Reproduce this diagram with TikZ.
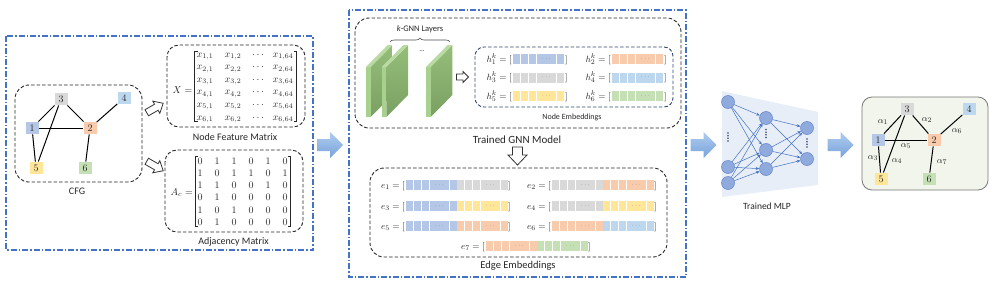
\documentclass[tikz,border=0pt]{standalone}
\usepackage{fontspec}
\newfontfamily\lblfont{Carlito}
\usetikzlibrary{decorations.pathreplacing,arrows.meta}
\definecolor{cblue}{RGB}{180,199,231}
\definecolor{corange}{RGB}{248,203,173}
\definecolor{cgray}{RGB}{217,217,217}
\definecolor{clblue}{RGB}{189,215,238}
\definecolor{cyellow}{RGB}{255,230,153}
\definecolor{cgreen}{RGB}{197,224,180}
\definecolor{boxblue}{RGB}{68,114,196}
\definecolor{navyd}{RGB}{50,70,110}
\definecolor{txt}{RGB}{38,38,38}
\definecolor{glight}{RGB}{169,209,142}
\definecolor{gdarkA}{RGB}{150,190,122}
\definecolor{gdarkB}{RGB}{122,160,98}
\definecolor{mlpbg}{RGB}{232,238,248}
\definecolor{mlpnode}{RGB}{143,170,220}
\definecolor{mlpline}{RGB}{110,140,205}
\newcommand{\embhalf}[4]{%
  \fill[#4] (#2,#3-5) rectangle (#2+51,#3+5);
  \foreach \o in {7.7,15.4,23.1,43.3}{\draw[white,line width=0.7pt] (#2+\o,#3-5) -- (#2+\o,#3+5);}
  \node[dotsty] (#1) at (#2+33.2,#3) {$\cdots$};
}
\newcommand{\gnnlayer}[1]{%
  \shade[top color=gdarkA,bottom color=gdarkB] (#1+4.7,67) -- (#1+26.4,45) -- (#1+26.4,95) -- (#1+4.7,117) -- cycle;
  \fill[glight] (#1,67) -- (#1+4.7,67) -- (#1+4.7,117) -- (#1,117) -- cycle;
  \fill[glight!80!white] (#1,67) -- (#1+21.7,45) -- (#1+26.4,45) -- (#1+4.7,67) -- cycle;
}
\newcommand{\vdotsat}[2]{%
  \foreach \d in {-4,-1.33,1.33,4}{\fill[navyd] (#1,#2+\d) circle (0.85);}
}
\tikzset{
  pics/blockarrow/.style n args={5}{code={
    \path[#5] ({-#1/2},{-#2/2}) -- ({#1/2-#4},{-#2/2}) -- ({#1/2-#4},{-#3/2}) -- ({#1/2},0) -- ({#1/2-#4},{#3/2}) -- ({#1/2-#4},{#2/2}) -- ({-#1/2},{#2/2}) -- cycle;
  }},
}
\begin{document}
\begin{tikzpicture}[x=1pt,y=-1pt,
  bluebox/.style={draw=boxblue,line width=1.1pt,dash pattern=on 6pt off 2pt on 1.5pt off 2pt},
  blackbox/.style={draw=black!85,line width=0.9pt,dash pattern=on 3.5pt off 2pt,rounded corners=14pt},
  navybox/.style={draw=navyd,line width=0.9pt,dash pattern=on 3.5pt off 2pt,rounded corners=9pt},
  lbl/.style={font=\lblfont\fontsize{10}{12}\selectfont,text=txt,inner sep=0},
  ment/.style={font=\fontsize{10}{12}\selectfont,text=txt,inner sep=0,anchor=base},
  mth/.style={font=\fontsize{9.5}{11}\selectfont,text=txt,inner sep=0.5pt},
  dotsty/.style={font=\fontsize{5}{5}\selectfont,text=black!60,inner sep=0},
  gnode/.style={minimum width=13,minimum height=12.5,inner sep=0,font=\fontsize{10}{12}\selectfont,text=txt},
  gline/.style={line width=1pt,black},
  brk/.style={line width=0.8pt,txt},
  hollow/.style={draw=black!80,fill=white,line width=0.8pt,line join=miter},
  barrow/.style={top color={rgb,255:red,175;green,204;blue,238},bottom color={rgb,255:red,120;green,163;blue,220},draw=none},
  mlpn/.style={circle,minimum size=13,inner sep=0,fill=mlpnode,draw=mlpline,line width=0.6pt},
  mlpc/.style={draw=boxblue,line width=0.5pt,-{Stealth[length=3.5pt,width=3pt]}},
]
\useasboundingbox (0,0) rectangle (996,287);

% ---------- left panel ----------
\draw[bluebox] (6,36) rectangle (313,250);
\draw[blackbox] (15,85) rectangle (142,182);
\node[lbl] (cfglbl) at (77,191) {CFG};
\node[gnode,fill=cblue] (c1) at (32,128) {$1$};
\node[gnode,fill=corange] (c2) at (90,128) {$2$};
\node[gnode,fill=cgray] (c3) at (61,99) {$3$};
\node[gnode,fill=clblue] (c4) at (124,98) {$4$};
\node[gnode,fill=cyellow] (c5) at (36,168) {$5$};
\node[gnode,fill=cgreen] (c6) at (85,168) {$6$};
\draw[gline] (c3) -- (c1);
\draw[gline] (c3) -- (c5);
\draw[gline] (c3) -- (c2);
\draw[gline] (c4) -- (c2);
\draw[gline] (c1) -- (c2);
\draw[gline] (c1) -- (c5);
\draw[gline] (c2) -- (c6);

\pic at (155,108) {blockarrow={19}{7}{14}{8}{hollow,rotate=30}};
\pic at (155,166) {blockarrow={19}{7}{14}{8}{hollow,rotate=-30}};

% node feature matrix
\draw[blackbox,rounded corners=12pt] (167,45) rectangle (305,127);
\node[lbl] (nfmlbl) at (235,137) {Node Feature Matrix};
\node[ment,anchor=base east] (xeq) at (192.5,93) {$X=$};
\draw[brk] (197.5,51) -- (194.5,51) -- (194.5,121) -- (197.5,121);
\draw[brk] (293.5,51) -- (296.5,51) -- (296.5,121) -- (293.5,121);
\foreach \r in {1,...,6}{
  \pgfmathsetmacro\yy{54+12.6*(\r-1)+3}
  \node[ment] (x\r a) at (205,\yy) {$x_{\r,1}$};
  \node[ment] (x\r b) at (233,\yy) {$x_{\r,2}$};
  \node[ment] (x\r c) at (258,\yy) {$\cdots$};
  \node[ment] (x\r d) at (283,\yy) {$x_{\r,64}$};
}

% adjacency matrix
\draw[blackbox,rounded corners=12pt] (165,150) rectangle (303,232);
\node[lbl] (adjlbl) at (233.5,242) {Adjacency Matrix};
\node[ment,anchor=base east] (aeq) at (193,195) {$A_c=$};
\draw[brk] (198,156) -- (195,156) -- (195,226) -- (198,226);
\draw[brk] (287.7,156) -- (290.7,156) -- (290.7,226) -- (287.7,226);
\foreach \row [count=\r] in {{0,1,1,0,1,0},{1,0,1,1,0,1},{1,1,0,0,1,0},{0,1,0,0,0,0},{1,0,1,0,0,0},{0,1,0,0,0,0}}{
  \pgfmathsetmacro\yy{160.7+12.2*(\r-1)+3.5}
  \foreach \v [count=\c] in \row {
    \pgfmathsetmacro\xx{200+17*(\c-1)}
    \node[ment] (a\r\c) at (\xx,\yy) {$\v$};
  }
}

% ---------- big arrows ----------
\pic at (330,145) {blockarrow={26}{12}{26}{13}{barrow}};
\pic at (703.5,145) {blockarrow={26}{12}{26}{13}{barrow}};
\pic at (840.5,145) {blockarrow={26}{12}{26}{13}{barrow}};

% ---------- GNN panel ----------
\draw[bluebox] (349,10) rectangle (686,277);
\draw[blackbox] (355,18) rectangle (681,128);
\node[lbl,font=\lblfont\fontsize{11}{13}\selectfont] (gnnlbl) at (517,140) {Trained GNN Model};
\gnnlayer{366}
\gnnlayer{381.7}
\gnnlayer{426}
\node[lbl,font=\lblfont\fontsize{7}{8}\selectfont] (ldots) at (422,51) {...};
\draw[decorate,decoration={brace,amplitude=4pt},line width=0.6pt,black!70] (390,42) -- (450,42);
\node[lbl,font=\lblfont\fontsize{8.5}{10}\selectfont] (klbl) at (420,29) {\textit{k}-GNN Layers};
\pic at (462.5,77) {blockarrow={12}{6}{11}{5.5}{hollow}};

\draw[navybox] (475,47) rectangle (673,107);
\node[lbl,font=\lblfont\fontsize{8}{10}\selectfont] (nelbl) at (572,117) {Node Embeddings};
\foreach \nm/\lc/\rc/\yy [count=\i] in {1/cblue/corange/59,3/cgray/clblue/77.5,5/cyellow/cgreen/96}{
  \pgfmathtruncatemacro\nr{\nm+1}
  \node[mth,anchor=base east] (hl\i) at (512.5,\yy+3) {$h_{\nm}^{k}=[$};
  \embhalf{hld\i}{513}{\yy}{\lc}
  \node[mth,anchor=base west] (hlr\i) at (564.5,\yy+3) {$]$};
  \node[mth,anchor=base east] (hr\i) at (611.5,\yy+3) {$h_{\nr}^{k}=[$};
  \embhalf{hrd\i}{612}{\yy}{\rc}
  \node[mth,anchor=base west] (hrr\i) at (663.5,\yy+3) {$]$};
}

\pic at (517.5,156) {blockarrow={18}{10}{19}{10}{hollow,rotate=-90}};

\draw[blackbox] (370,168) rectangle (667,257);
\node[lbl,font=\lblfont\fontsize{10.5}{12}\selectfont] (eelbl) at (518,266) {Edge Embeddings};
\foreach \nm/\xx/\yy/\ca/\cb in {1/406/185/cblue/cgray,2/552/185/cgray/corange,3/406/206/cblue/cyellow,4/552/206/cgray/cyellow,5/406/226/cblue/corange,6/552/226/corange/clblue,7/486/246/corange/cgreen}{
  \node[mth,anchor=base east] (el\nm) at (\xx-0.5,\yy+3) {$e_{\nm}=[$};
  \embhalf{ea\nm}{\xx}{\yy}{\ca}
  \embhalf{eb\nm}{\xx+51}{\yy}{\cb}
  \node[mth,anchor=base west] (er\nm) at (\xx+101.5,\yy+3) {$]$};
}

% ---------- MLP ----------
\fill[mlpbg] (722,91) -- (818,112) -- (818,185) -- (722,197) -- cycle;
\node[mlpn] (m1a) at (728,102) {};
\node[mlpn] (m1b) at (728,167) {};
\node[mlpn] (m1c) at (728,183) {};
\node[mlpn] (m2a) at (766,118) {};
\node[mlpn] (m2b) at (766,150) {};
\node[mlpn] (m2c) at (766,169) {};
\node[mlpn] (m3a) at (807,128) {};
\node[mlpn] (m3b) at (807,159) {};
\foreach \s in {m1a,m1b,m1c}{\foreach \t in {m2a,m2b,m2c}{\draw[mlpc] (\s) -- (\t);}}
\foreach \s in {m2a,m2b,m2c}{\foreach \t in {m3a,m3b}{\draw[mlpc] (\s) -- (\t);}}
\vdotsat{728}{137}
\vdotsat{766}{133.5}
\vdotsat{807}{143}
\node[lbl,font=\lblfont\fontsize{9.5}{11}\selectfont] (mlplbl) at (767,206) {Trained MLP};

% ---------- result ----------
\draw[draw={rgb,255:red,120;green,120;blue,120},fill={rgb,255:red,241;green,245;blue,235},rounded corners=10pt,line width=0.8pt] (862,97) rectangle (988,190);
\node[gnode,fill=cblue] (r1) at (878,140) {$1$};
\node[gnode,fill=corange] (r2) at (934,140) {$2$};
\node[gnode,fill=cgray] (r3) at (907,109) {$3$};
\node[gnode,fill=clblue] (r4) at (969,109) {$4$};
\node[gnode,fill=cyellow] (r5) at (881,179) {$5$};
\node[gnode,fill=cgreen] (r6) at (929,179) {$6$};
\draw[gline] (r3) -- (r1);
\draw[gline] (r3) -- (r5);
\draw[gline] (r3) -- (r2);
\draw[gline] (r4) -- (r2);
\draw[gline] (r1) -- (r2);
\draw[gline] (r1) -- (r5);
\draw[gline] (r2) -- (r6);
\node[mth] (al1) at (883,122) {$\alpha_1$};
\node[mth] (al2) at (927,120) {$\alpha_2$};
\node[mth] (al6) at (957,131) {$\alpha_6$};
\node[mth] (al5) at (906,146) {$\alpha_5$};
\node[mth] (al3) at (873,158) {$\alpha_3$};
\node[mth] (al4) at (897,161) {$\alpha_4$};
\node[mth] (al7) at (942,162) {$\alpha_7$};
\end{tikzpicture}
\end{document}
